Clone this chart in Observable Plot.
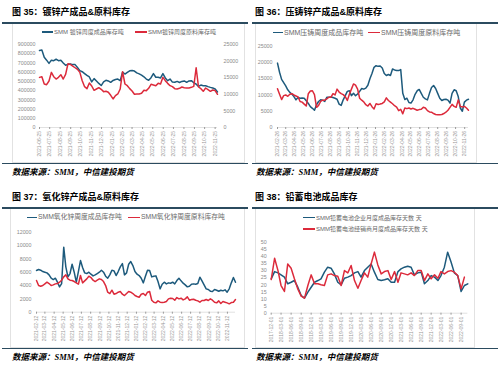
<!DOCTYPE html>
<html><head><meta charset="utf-8">
<script src="https://cdn.jsdelivr.net/npm/d3@7"></script>
<script src="https://cdn.jsdelivr.net/npm/@observablehq/plot@0.6"></script>
<style>
body{margin:0;background:#fff;}
#root{position:relative;width:500px;height:369px;overflow:hidden;font-family:"Liberation Sans","Noto Sans CJK SC",sans-serif;}
.title{position:absolute;font-weight:bold;font-size:9px;line-height:9px;color:#000;white-space:nowrap;font-family:"Liberation Sans","Noto Sans CJK SC",sans-serif;}
.rule{position:absolute;height:1.5px;background:#2b4b5f;}
.box{position:absolute;border:0.8px solid #e2e2e2;box-sizing:border-box;}
.src{position:absolute;font-weight:bold;font-style:italic;font-size:8.5px;line-height:9px;font-family:"Liberation Serif","Noto Sans CJK SC",serif;white-space:nowrap;color:#000;}
.leg{position:absolute;color:#6a6a6a;white-space:nowrap;display:flex;align-items:center;line-height:1;}
.sw{display:inline-block;height:1.6px;margin-right:1px;}
.chart{position:absolute;}
</style></head>
<body><div id="root"></div>
<script>
// ---------- data ----------
const BLUE = "#1d5a7c", RED = "#dc2a3b";

// Panel 35: galvanizing zinc (weekly from 2021-06-25)
const start35 = "2021-06-25";
const ticks35 = ["2021-06-25","2021-07-25","2021-08-25","2021-09-25","2021-10-25","2021-11-25","2021-12-25","2022-01-25","2022-02-25","2022-03-25","2022-04-25","2022-05-25","2022-06-25","2022-07-25","2022-08-25","2022-09-25","2022-10-25","2022-11-25"];
const yLeft35 = [0,100000,200000,300000,400000,500000,600000,700000,800000,900000];
const yRight35 = [0,5000,10000,15000,20000,25000];
const product35 = [835000,840000,762000,730000,695000,730000,725000,740000,725000,728000,700000,675000,685000,690000,682000,682000,650000,617000,605000,585000,565000,548000,495000,530000,505000,478000,455000,495000,512000,505000,490000,510000,520000,525000,508000,600000,580000,598000,615000,617000,612000,592000,582000,568000,550000,525000,512000,540000,585000,545000,544000,537000,585000,537000,508000,525000,492000,490000,500000,488000,500000,505000,490000,505000,508000,485000,470000,445000,460000,453000,453000,443000,435000,428000,418000,385000];
const raw35 = [15100,15300,13100,12900,14000,16600,15300,14600,15100,15900,14600,16000,19200,19000,18500,18000,17500,16600,14100,12300,11700,13400,12500,11200,11600,12000,11500,10800,10900,10600,9700,8600,9600,10100,11600,16800,13100,12600,11700,11000,10000,10100,10100,10300,11200,11100,11800,13000,12800,12600,13300,13100,15100,14100,13300,12600,12300,11700,11600,11800,12200,12000,11900,11900,12100,12400,18000,12200,11700,10900,11900,11400,10900,11300,11100,10000];

// Panel 36: die-casting zinc (weekly from 2021-02-26)
const start36 = "2021-02-26";
const ticks36 = ["2021-02-26","2021-03-26","2021-04-26","2021-05-26","2021-06-26","2021-07-26","2021-08-26","2021-09-26","2021-10-26","2021-11-26","2021-12-26","2022-01-26","2022-02-26","2022-03-26","2022-04-26","2022-05-26","2022-06-26","2022-07-26","2022-08-26","2022-09-26","2022-10-26","2022-11-26"];
const y36 = [0,5000,10000,15000,20000,25000];
const product36 = [19800,17000,14800,13800,12800,11600,10800,10300,9500,8500,9200,9000,9100,9000,8200,7400,6400,5900,5300,7000,8000,8500,8400,8000,9300,9300,9400,9200,9000,8700,7200,6800,8500,9800,11100,11300,9800,10500,9800,10300,11100,12000,11800,12100,13000,15000,16600,18500,19000,18800,18900,18300,16600,16000,16300,16000,18000,17700,17500,17500,17800,10500,8600,9000,7700,7500,8500,10200,11300,11700,10500,9300,8800,8500,10500,12300,12900,12000,10500,9000,8300,8600,8700,8400,7500,10500,11600,11300,9500,6000,5000,7800,8400,8700];
const raw36 = [11900,10200,8600,9800,10000,9600,10200,10400,10000,9700,9400,8000,7800,7200,6600,10400,11200,11300,10100,6200,6800,8000,8400,8400,8800,9300,9300,10400,10000,11800,10900,10400,10100,9500,8300,10200,11800,13400,13000,11800,9000,8400,7900,7000,6600,7400,6400,5700,7300,7100,7200,7400,7900,9100,8300,7800,7300,6700,6300,5200,5600,4200,6000,5800,6000,5700,5900,5600,5300,5500,5600,6200,6000,5200,4800,4700,4300,4000,3900,3900,4000,4300,4700,5300,6200,7100,6500,6200,8500,6500,6300,6500,6000,5300];

// Panel 37: zinc oxide (weekly from 2021-02-12)
const start37 = "2021-02-12";
const ticks37 = ["2021-02-12","2021-03-12","2021-04-12","2021-05-12","2021-06-12","2021-07-12","2021-08-12","2021-09-12","2021-10-12","2021-11-12","2021-12-12","2022-01-12","2022-02-12","2022-03-12","2022-04-12","2022-05-12","2022-06-12","2022-07-12","2022-08-12","2022-09-12","2022-10-12","2022-11-12"];
const y37 = [0,2000,4000,6000,8000,10000,12000];
const product37 = [6250,6400,6300,6100,6000,5900,5600,5100,4900,5100,4500,3800,4300,9750,6800,5300,5800,7200,6000,4500,6100,7750,6700,5900,5800,6000,5700,5450,5600,5800,6000,6300,6000,5400,5100,5600,6300,6200,5500,6100,6800,7300,5600,5900,7200,7600,7000,6100,5700,5500,5100,4400,5400,6300,6250,5300,5400,5450,4600,3500,4200,4500,4250,4400,4350,4500,4250,4750,5100,4700,4350,4100,3800,3900,4200,4250,4200,4300,5250,4700,4100,3500,3400,3150,3100,3400,3300,3150,3300,3200,3350,3000,3500,4400,5200,4500];
const raw37 = [4750,4000,3900,4000,4250,4500,4300,4000,4100,4250,4300,4500,4800,5300,5600,5000,4800,4750,4600,4400,4200,5500,4400,4700,5000,5400,5200,4800,4600,4800,5000,4900,4600,4000,3000,2800,3300,2700,2800,3000,3100,2700,2500,2800,3100,3000,2800,2500,2350,2250,2700,2800,2500,3000,3100,1800,1500,1400,1700,1500,1450,1500,1600,2000,2100,2050,1800,2200,2000,2100,1850,2000,2300,1800,1900,1950,1800,1700,1500,1750,1750,1900,1750,2000,1800,1500,1400,1700,1300,1600,1500,1400,1250,1450,1500,1900];

// Panel 38: lead-acid battery (monthly from 2017-12-01)
const start38 = "2017-12-01";
const ticks38 = ["2017-12-01","2018-03-01","2018-06-01","2018-09-01","2018-12-01","2019-03-01","2019-06-01","2019-09-01","2019-12-01","2020-03-01","2020-06-01","2020-09-01","2020-12-01","2021-03-01","2021-06-01","2021-09-01","2021-12-01","2022-03-01","2022-06-01","2022-09-01"];
const y38 = [0,5,10,15,20,25,30,35,40,45,50];
const factory38 = [24.2,29.3,28.4,27,25.4,20.7,21.8,23,18.3,12.4,10.6,14.8,18.3,21.8,23,24.2,28.9,32.4,31.7,27.7,21.8,20,24.6,25.4,26.5,28.4,29.3,25.4,30,32.4,34.7,28.9,23.7,23,23.5,24.2,21.8,21.8,29.3,31.2,32.4,33.1,32.4,27,28.4,28.9,20.7,23,26.5,25.4,23,26.5,32.4,43,36,28.4,26.5,15.3,19.5,20.7];
const dealer38 = [23.7,38.7,30,19.5,15.3,34.7,31.7,24.2,17.1,12,10.6,19.5,27,20.7,20.7,20,19.5,27,27.7,26.5,26,19.5,30,28.4,33.6,23,17.6,23,28.4,25.4,34.7,43,34,27.7,29.3,30,23.7,29.3,21.8,28.4,27.7,27,28.4,26.5,30,30,23,27.7,24.2,27,24.6,29.3,27.7,29.3,30,28.9,26.5,17.1,25.4];

// text
const titles = ["图 35：镀锌产成品&原料库存","图 36：压铸锌产成品&原料库存","图 37：氧化锌产成品&原料库存","图 38：铅蓄电池成品库存"];
const sourceText = "数据来源：SMM，中信建投期货";
const legends35 = ["SMM 镀锌周度成品库存吨","SMM镀锌周度原料库存吨"];
const legends36 = ["SMM压铸周度成品库存吨","SMM压铸周度原料库存吨"];
const legends37 = ["SMM氧化锌周度成品库存吨","SMM氧化锌周度原料库存吨"];
const legends38 = ["SMM铅蓄电池企业月度成品库存天数 天","SMM铅蓄电池经销商月度成品库存天数 天"];

// ---------- helpers ----------
const root = document.getElementById("root");
const parse = d3.utcParse("%Y-%m-%d");
const fmt = d3.utcFormat("%Y-%m-%d");
const weekly = (s, vals) => vals.map((v, i) => ({date: d3.utcDay.offset(parse(s), 7 * i), value: v}));
const monthly = (s, vals) => vals.map((v, i) => ({date: d3.utcMonth.offset(parse(s), i), value: v}));

function el(cls, css, html) {
  const d = document.createElement("div");
  d.className = cls;
  Object.assign(d.style, css);
  if (html != null) d.innerHTML = html;
  root.appendChild(d);
  return d;
}
function legend(x, y, color, text, fs, sw) {
  const d = el("leg", {left: x + "px", top: (y - fs / 2) + "px", fontSize: fs + "px", height: fs + "px"});
  const s = document.createElement("span");
  s.className = "sw"; s.style.width = sw + "px"; s.style.background = color;
  d.appendChild(s);
  d.appendChild(document.createTextNode(text));
}
function frame(px, py, t, boxL, boxR) {
  el("box", {left: boxL + "px", top: (py + 23) + "px", width: (boxR - boxL) + "px", height: "140px"});
  el("title", {left: (px + (px ? 5 : 12)) + "px", top: (py + 8.3) + "px"}, t);
  el("rule", {left: (px + 2) + "px", top: (py + 22) + "px", width: "246px"});
  el("rule", {left: (px + 2) + "px", top: (py + 162.5) + "px", width: "246px"});
  el("src", {left: (px + (px ? 6 : 12)) + "px", top: (py + 167.5) + "px"}, sourceText);
}

function chart(o) {
  const marks = [
    Plot.ruleY([0], {stroke: "#d9d9d9", strokeWidth: 0.8}),
    Plot.axisY(o.yTicks, {label: null, tickSize: 0, tickPadding: o.pad, fontSize: 5.3, color: "#8a8a8a", tickFormat: d => String(d)}),
    Plot.axisX(o.xTicks.map(parse), {label: null, tickRotate: -90, tickSize: 2, tickPadding: 1.5, fontSize: 5, color: "#9a9a9a", tickFormat: fmt}),
    ...o.lines.map(l => Plot.lineY(l.data, {x: "date", y: l.y || "value", stroke: l.color, strokeWidth: 1.5, strokeLinejoin: "round"}))
  ];
  if (o.extra) marks.push(...o.extra);
  const svg = Plot.plot({
    width: o.w, height: o.h,
    marginTop: o.mt, marginBottom: o.mb, marginLeft: o.ml, marginRight: o.mr,
    style: {fontFamily: "Liberation Sans, Noto Sans CJK SC, sans-serif", background: "transparent", overflow: "visible"},
    x: {type: "utc", domain: o.xDomain, label: null},
    y: {domain: o.yDomain, label: null},
    marks
  });
  const wrap = el("chart", {left: o.left + "px", top: o.top + "px"});
  wrap.appendChild(svg);
}

// ---------- panel 35 ----------
frame(0, 0, titles[0], 11.5, 245);
legend(42, 32, BLUE, legends35[0], 6, 11);
legend(135, 32, RED, legends35[1], 6, 12);
const p35 = weekly(start35, product35);
const r35 = weekly(start35, raw35);
const k35 = yLeft35[yLeft35.length - 1] / yRight35[yRight35.length - 1];
chart({
  left: 0, top: 36, w: 250, h: 126, mt: 8, mb: 35, ml: 39, mr: 33, pad: 4,
  xDomain: [p35[0].date, p35[p35.length - 1].date], xTicks: ticks35,
  yDomain: [0, yLeft35[yLeft35.length - 1]], yTicks: yLeft35,
  lines: [{data: p35, color: BLUE}, {data: r35, color: RED, y: d => d.value * k35}],
  extra: [Plot.text(yRight35, {y: d => d * k35, text: d => String(d), frameAnchor: "right", dx: 6, textAnchor: "start", fontSize: 5.3, fill: "#8a8a8a"})]
});

// ---------- panel 36 ----------
frame(250, 0, titles[1], 255, 477);
legend(273, 32.7, BLUE, legends36[0], 7, 10);
legend(368, 32.7, RED, legends36[1], 7, 12);
const p36 = weekly(start36, product36);
const r36 = weekly(start36, raw36);
chart({
  left: 250, top: 36, w: 250, h: 126, mt: 9.7, mb: 35, ml: 27, mr: 32, pad: 5,
  xDomain: [p36[0].date, p36[p36.length - 1].date], xTicks: ticks36,
  yDomain: [0, 25000], yTicks: y36,
  lines: [{data: p36, color: BLUE}, {data: r36, color: RED}]
});

// ---------- panel 37 ----------
frame(0, 185, titles[2], 10, 245);
legend(27, 217.7, BLUE, legends37[0], 6.8, 10);
legend(128, 217.7, RED, legends37[1], 6.8, 12);
const p37 = weekly(start37, product37);
const r37 = weekly(start37, raw37);
chart({
  left: 0, top: 224, w: 250, h: 124, mt: 7.7, mb: 36.3, ml: 36, mr: 15, pad: 5,
  xDomain: [p37[0].date, p37[p37.length - 1].date], xTicks: ticks37,
  yDomain: [0, 12000], yTicks: y37,
  lines: [{data: p37, color: BLUE}, {data: r37, color: RED}]
});

// ---------- panel 38 ----------
frame(250, 185, titles[3], 255, 475);
legend(303, 217.7, BLUE, legends38[0], 6, 12);
legend(303, 229, RED, legends38[1], 6, 12);
const f38 = monthly(start38, factory38);
const d38 = monthly(start38, dealer38);
chart({
  left: 250, top: 236, w: 250, h: 112, mt: 5.7, mb: 35.3, ml: 20.7, mr: 32.7, pad: 4.5,
  xDomain: [f38[0].date, f38[f38.length - 1].date], xTicks: ticks38,
  yDomain: [0, 50], yTicks: y38,
  lines: [{data: f38, color: BLUE}, {data: d38, color: RED}]
});
</script>
</body></html>
